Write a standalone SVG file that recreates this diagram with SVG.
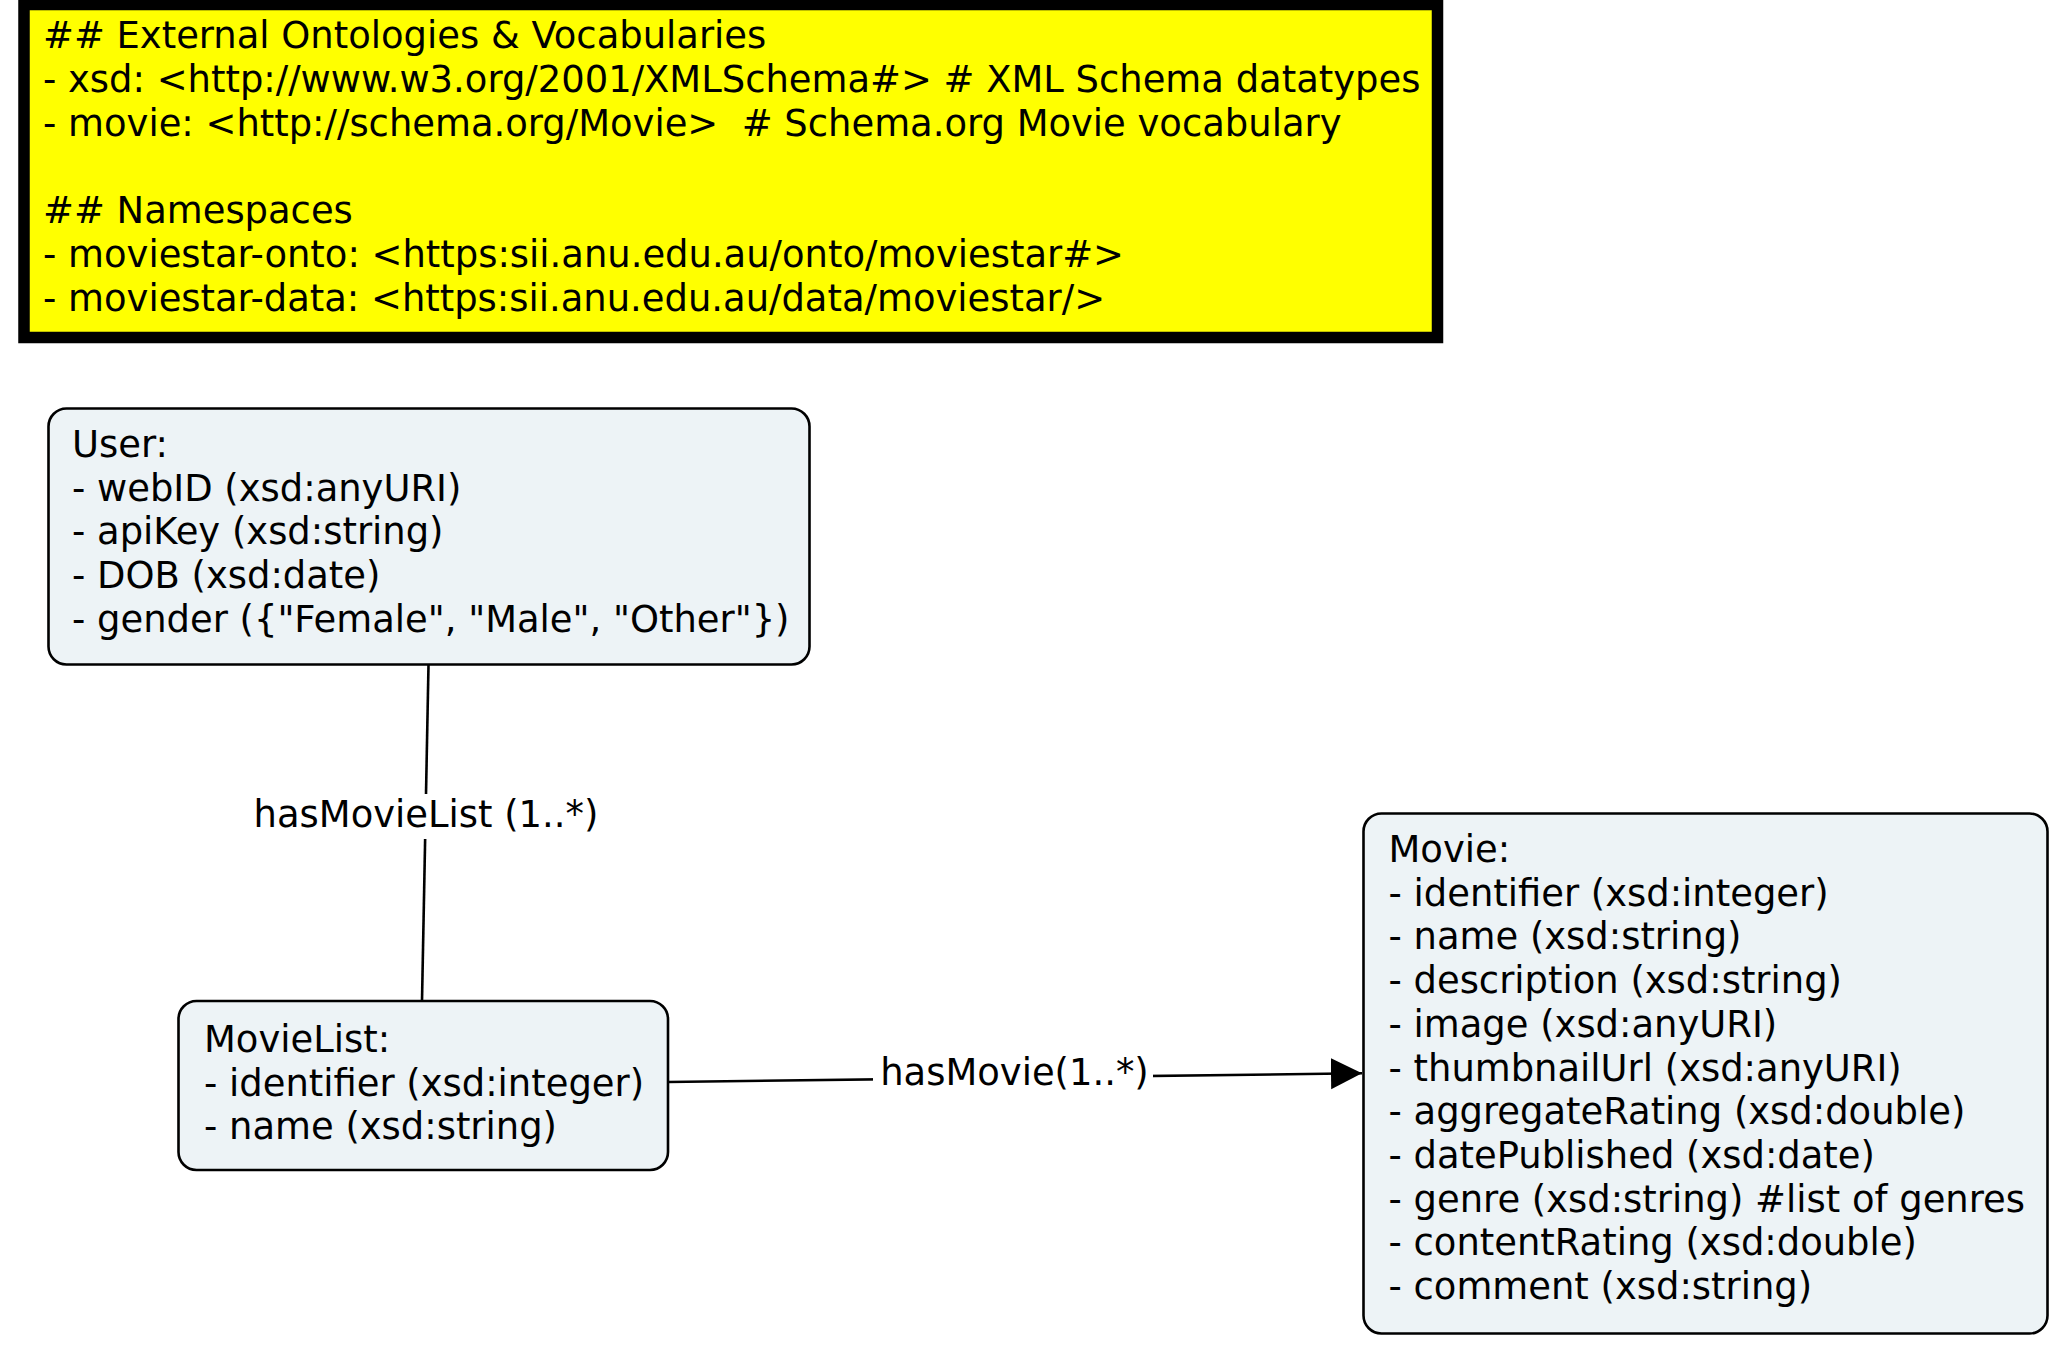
<svg xmlns="http://www.w3.org/2000/svg" width="2062" height="1349" viewBox="0 0 2062 1349">
<defs>
<style>
text{font-family:"DejaVu Sans",Verdana,"Liberation Sans",sans-serif;font-size:36.9px;fill:#000;}
.node{fill:#edf3f6;stroke:#000;stroke-width:2.6;}
.edge{stroke:#000;stroke-width:2.6;fill:none;}
.lblbg{fill:#fff;stroke:none;}
.mid{text-anchor:middle;}
</style>
<marker id="arrow" markerUnits="userSpaceOnUse" markerWidth="32" markerHeight="32" refX="31" refY="15.5" orient="auto" viewBox="0 0 32 31">
<path d="M0,0 L31,15.5 L0,31 z" fill="#000"/>
</marker>
</defs>
<rect width="2062" height="1349" fill="#fff"/>

<g id="namespaces">
<rect x="24" y="4.5" width="1413.5" height="333" fill="#ffff00" stroke="#000" stroke-width="11.5"/>
<text xml:space="preserve" x="43" y="48.3">## External Ontologies &amp; Vocabularies</text>
<text xml:space="preserve" x="43" y="92">- xsd: &lt;http://www.w3.org/2001/XMLSchema#&gt; # XML Schema datatypes</text>
<text xml:space="preserve" x="43" y="135.7">- movie: &lt;http://schema.org/Movie&gt;  # Schema.org Movie vocabulary</text>
<text xml:space="preserve" x="43" y="223.1">## Namespaces</text>
<text xml:space="preserve" x="43" y="266.8">- moviestar-onto: &lt;https:sii.anu.edu.au/onto/moviestar#&gt;</text>
<text xml:space="preserve" x="43" y="310.5">- moviestar-data: &lt;https:sii.anu.edu.au/data/moviestar/&gt;</text>
</g>

<g id="connectors">
<g id="edge-hasMovieList">
<line class="edge" x1="428.5" y1="665" x2="422" y2="1001"/>
<rect class="lblbg" x="250" y="794" width="352" height="45"/>
<text class="mid" x="426" y="827">hasMovieList (1..*)</text>
</g>
<g id="edge-hasMovie">
<line class="edge" x1="668" y1="1082" x2="1362" y2="1073.3" marker-end="url(#arrow)"/>
<rect class="lblbg" x="873" y="1055" width="280" height="44"/>
<text class="mid" x="1014.5" y="1085">hasMovie(1..*)</text>
</g>
</g>

<g id="node-user">
<rect class="node" x="48.5" y="408.5" width="761" height="256" rx="18" ry="18"/>
<text x="72" y="457">User:</text>
<text x="72" y="500.7">- webID (xsd:anyURI)</text>
<text x="72" y="544.4">- apiKey (xsd:string)</text>
<text x="72" y="588.1">- DOB (xsd:date)</text>
<text x="72" y="631.8">- gender ({"Female", "Male", "Other"})</text>
</g>

<g id="node-movielist">
<rect class="node" x="178.5" y="1001" width="489.5" height="169" rx="18" ry="18"/>
<text x="204" y="1052">MovieList:</text>
<text x="204" y="1095.7">- identifier (xsd:integer)</text>
<text x="204" y="1139.4">- name (xsd:string)</text>
</g>

<g id="node-movie">
<rect class="node" x="1363.5" y="813.5" width="684" height="520" rx="18" ry="18"/>
<text x="1388.5" y="862">Movie:</text>
<text x="1388.5" y="905.7">- identifier (xsd:integer)</text>
<text x="1388.5" y="949.4">- name (xsd:string)</text>
<text x="1388.5" y="993.1">- description (xsd:string)</text>
<text x="1388.5" y="1036.8">- image (xsd:anyURI)</text>
<text x="1388.5" y="1080.5">- thumbnailUrl (xsd:anyURI)</text>
<text x="1388.5" y="1124.2">- aggregateRating (xsd:double)</text>
<text x="1388.5" y="1167.9">- datePublished (xsd:date)</text>
<text x="1388.5" y="1211.6">- genre (xsd:string) #list of genres</text>
<text x="1388.5" y="1255.3">- contentRating (xsd:double)</text>
<text x="1388.5" y="1299">- comment (xsd:string)</text>
</g>
</svg>
